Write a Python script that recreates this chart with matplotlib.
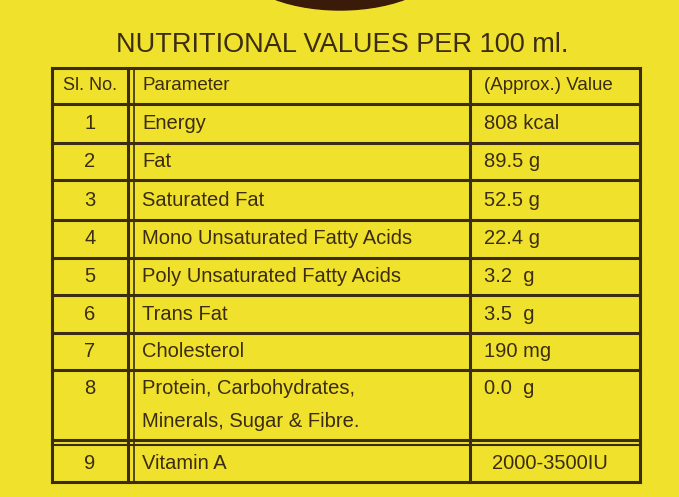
import matplotlib
matplotlib.use("Agg")
import matplotlib.pyplot as plt
from matplotlib.patches import Ellipse

title = "NUTRITIONAL VALUES PER 100 ml."
headers = ["Sl. No.", "Parameter", "(Approx.) Value"]
sl_no = ["1", "2", "3", "4", "5", "6", "7", "8", "9"]
parameters = ["Energy", "Fat", "Saturated Fat", "Mono Unsaturated Fatty Acids",
              "Poly Unsaturated Fatty Acids", "Trans Fat", "Cholesterol",
              "Protein, Carbohydrates,\nMinerals, Sugar & Fibre.", "Vitamin A"]
values = ["808 kcal", "89.5 g", "52.5 g", "22.4 g", "3.2  g", "3.5  g", "190 mg",
          "0.0  g", "2000-3500IU"]

bg = "#efe12c"
ink = "#3b2c12"

fig = plt.figure(figsize=(6.79, 4.97), dpi=100)
fig.patch.set_facecolor(bg)
ax = fig.add_axes([0, 0, 1, 1])
ax.set_xlim(0, 679); ax.set_ylim(497, 0); ax.axis("off")
ax.set_facecolor(bg)

ax.add_patch(Ellipse((340, -40), 210, 100, color="#3a1a08"))

ax.text(342, 45, title, ha="center", va="center", fontsize=19.5, color=ink,
        family="Liberation Sans")

x0, c1, c2, x1 = 52, 128, 470, 640
lines_y = [68, 104, 143, 180, 220, 258, 295, 333, 370, 440, 482]
for y in lines_y:
    ax.plot([x0, x1], [y, y], color=ink, lw=2.2)
ax.plot([x0, x1], [445, 445], color=ink, lw=1.5)
for x in [x0, c1, c2, x1]:
    ax.plot([x, x], [68, 482], color=ink, lw=2.2)
ax.plot([c1 + 6, c1 + 6], [68, 482], color=ink, lw=1.2)

fs = 14.5
fam = "Liberation Sans"
hy = (68 + 104) / 2
ax.text((x0 + c1) / 2, hy, headers[0], ha="center", va="center", fontsize=fs - 1.5, color=ink, family=fam)
ax.text(c1 + 14, hy, headers[1], ha="left", va="center", fontsize=fs - 1, color=ink, family=fam)
ax.text(c2 + 14, hy, headers[2], ha="left", va="center", fontsize=fs - 1, color=ink, family=fam)

row_bounds = [(104, 143), (143, 180), (180, 220), (220, 258), (258, 295),
              (295, 333), (333, 370), (370, 440), (445, 482)]
for i, (a, b) in enumerate(row_bounds):
    if i == 7:
        ya = a + 18
        ax.text((x0 + c1) / 2, ya, sl_no[i], ha="center", va="center", fontsize=fs, color=ink, family=fam)
        ax.text(c1 + 14, (a + b) / 2, parameters[i], ha="left", va="center", fontsize=fs,
                color=ink, family=fam, linespacing=1.9)
        ax.text(c2 + 14, ya, values[i], ha="left", va="center", fontsize=fs, color=ink, family=fam)
        continue
    ym = (a + b) / 2
    ax.text((x0 + c1) / 2, ym, sl_no[i], ha="center", va="center", fontsize=fs, color=ink, family=fam)
    ax.text(c1 + 14, ym, parameters[i], ha="left", va="center", fontsize=fs, color=ink, family=fam)
    xv = c2 + 22 if i == 8 else c2 + 14
    ax.text(xv, ym, values[i], ha="left", va="center", fontsize=fs, color=ink, family=fam)

fig.savefig("out.png", dpi=100, facecolor=bg)
